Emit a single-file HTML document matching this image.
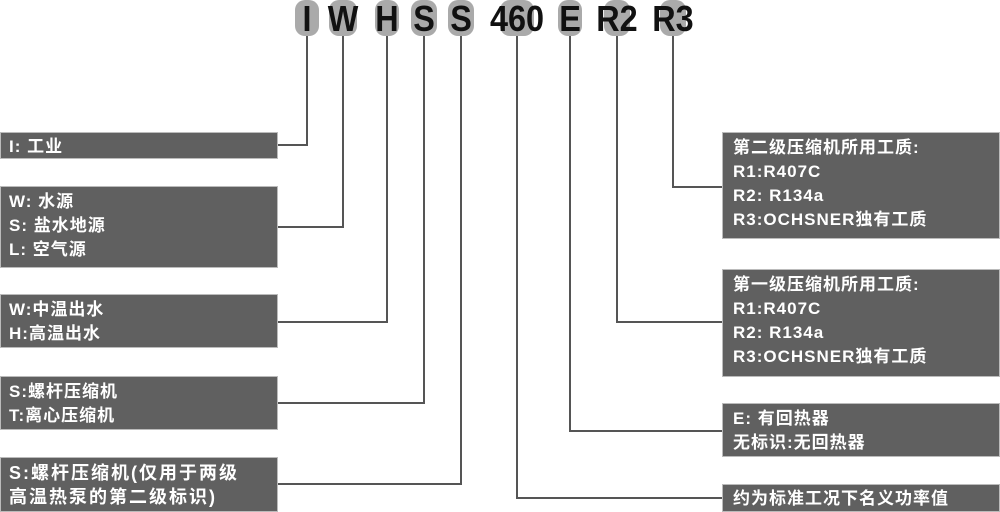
<!DOCTYPE html>
<html><head><meta charset="utf-8"><style>
body{margin:0;width:1000px;height:512px;background:#fff;position:relative;overflow:hidden;font-family:"Liberation Sans","Noto Sans CJK SC",sans-serif}
.b{position:absolute;background:#606060;border:1px solid #bbb;box-sizing:border-box;color:#fff;font-weight:bold;font-size:17px;line-height:24px;padding:3px 8px;letter-spacing:1px;white-space:nowrap}
.r{padding-left:10px}
.l{position:absolute;background:#555}
.c{position:absolute;top:0px;font-weight:bold;font-size:36px;color:#111;line-height:38px;transform:translateX(-50%) scaleX(0.9)}
.g{position:absolute;top:0;height:36px;background:#aaa;border-radius:10px}
</style></head><body>
<div class="g" style="left:295px;width:24px"></div>
<div class="g" style="left:329px;width:28px"></div>
<div class="g" style="left:375px;width:24px"></div>
<div class="g" style="left:411px;width:26px"></div>
<div class="g" style="left:448px;width:26px"></div>
<div class="g" style="left:500px;width:34px"></div>
<div class="g" style="left:558px;width:24px"></div>
<div class="g" style="left:604px;width:26px"></div>
<div class="g" style="left:660px;width:26px"></div>
<div class="c" style="left:307px">I</div>
<div class="c" style="left:343px">W</div>
<div class="c" style="left:387px">H</div>
<div class="c" style="left:424px">S</div>
<div class="c" style="left:461px">S</div>
<div class="c" style="left:517px">460</div>
<div class="c" style="left:570px">E</div>
<div class="c" style="left:617px">R2</div>
<div class="c" style="left:673px">R3</div>

<div class="l" style="left:306px;top:36px;width:2px;height:110px"></div>
<div class="l" style="left:278px;top:144px;width:30px;height:2px"></div>
<div class="l" style="left:342px;top:36px;width:2px;height:192px"></div>
<div class="l" style="left:278px;top:226px;width:66px;height:2px"></div>
<div class="l" style="left:386px;top:36px;width:2px;height:287px"></div>
<div class="l" style="left:278px;top:321px;width:110px;height:2px"></div>
<div class="l" style="left:423px;top:36px;width:2px;height:368px"></div>
<div class="l" style="left:278px;top:402px;width:147px;height:2px"></div>
<div class="l" style="left:460px;top:36px;width:2px;height:449px"></div>
<div class="l" style="left:278px;top:483px;width:184px;height:2px"></div>
<div class="l" style="left:516px;top:36px;width:2px;height:463px"></div>
<div class="l" style="left:516px;top:497px;width:206px;height:2px"></div>
<div class="l" style="left:569px;top:36px;width:2px;height:396px"></div>
<div class="l" style="left:569px;top:430px;width:153px;height:2px"></div>
<div class="l" style="left:616px;top:36px;width:2px;height:287px"></div>
<div class="l" style="left:616px;top:321px;width:106px;height:2px"></div>
<div class="l" style="left:672px;top:36px;width:2px;height:152px"></div>
<div class="l" style="left:672px;top:186px;width:50px;height:2px"></div>

<div class="b" style="left:0;top:132px;width:278px;height:27px;line-height:21px">I: 工业</div>
<div class="b" style="left:0;top:186px;width:278px;height:82px">W: 水源<br>S: 盐水地源<br>L: 空气源</div>
<div class="b" style="left:0;top:294px;width:278px;height:54px">W:中温出水<br>H:高温出水</div>
<div class="b" style="left:0;top:376px;width:278px;height:54px">S:螺杆压缩机<br>T:离心压缩机</div>
<div class="b" style="left:0;top:457px;width:278px;height:55px;font-size:18px;letter-spacing:2px">S:螺杆压缩机(仅用于两级<br>高温热泵的第二级标识)</div>

<div class="b r" style="left:722px;top:132px;width:278px;height:107px">第二级压缩机所用工质:<br>R1:R407C<br>R2: R134a<br>R3:OCHSNER独有工质</div>
<div class="b r" style="left:722px;top:269px;width:278px;height:108px">第一级压缩机所用工质:<br>R1:R407C<br>R2: R134a<br>R3:OCHSNER独有工质</div>
<div class="b r" style="left:722px;top:403px;width:278px;height:54px">E: 有回热器<br>无标识:无回热器</div>
<div class="b r" style="left:722px;top:484px;width:278px;height:28px;line-height:21px">约为标准工况下名义功率值</div>
</body></html>
